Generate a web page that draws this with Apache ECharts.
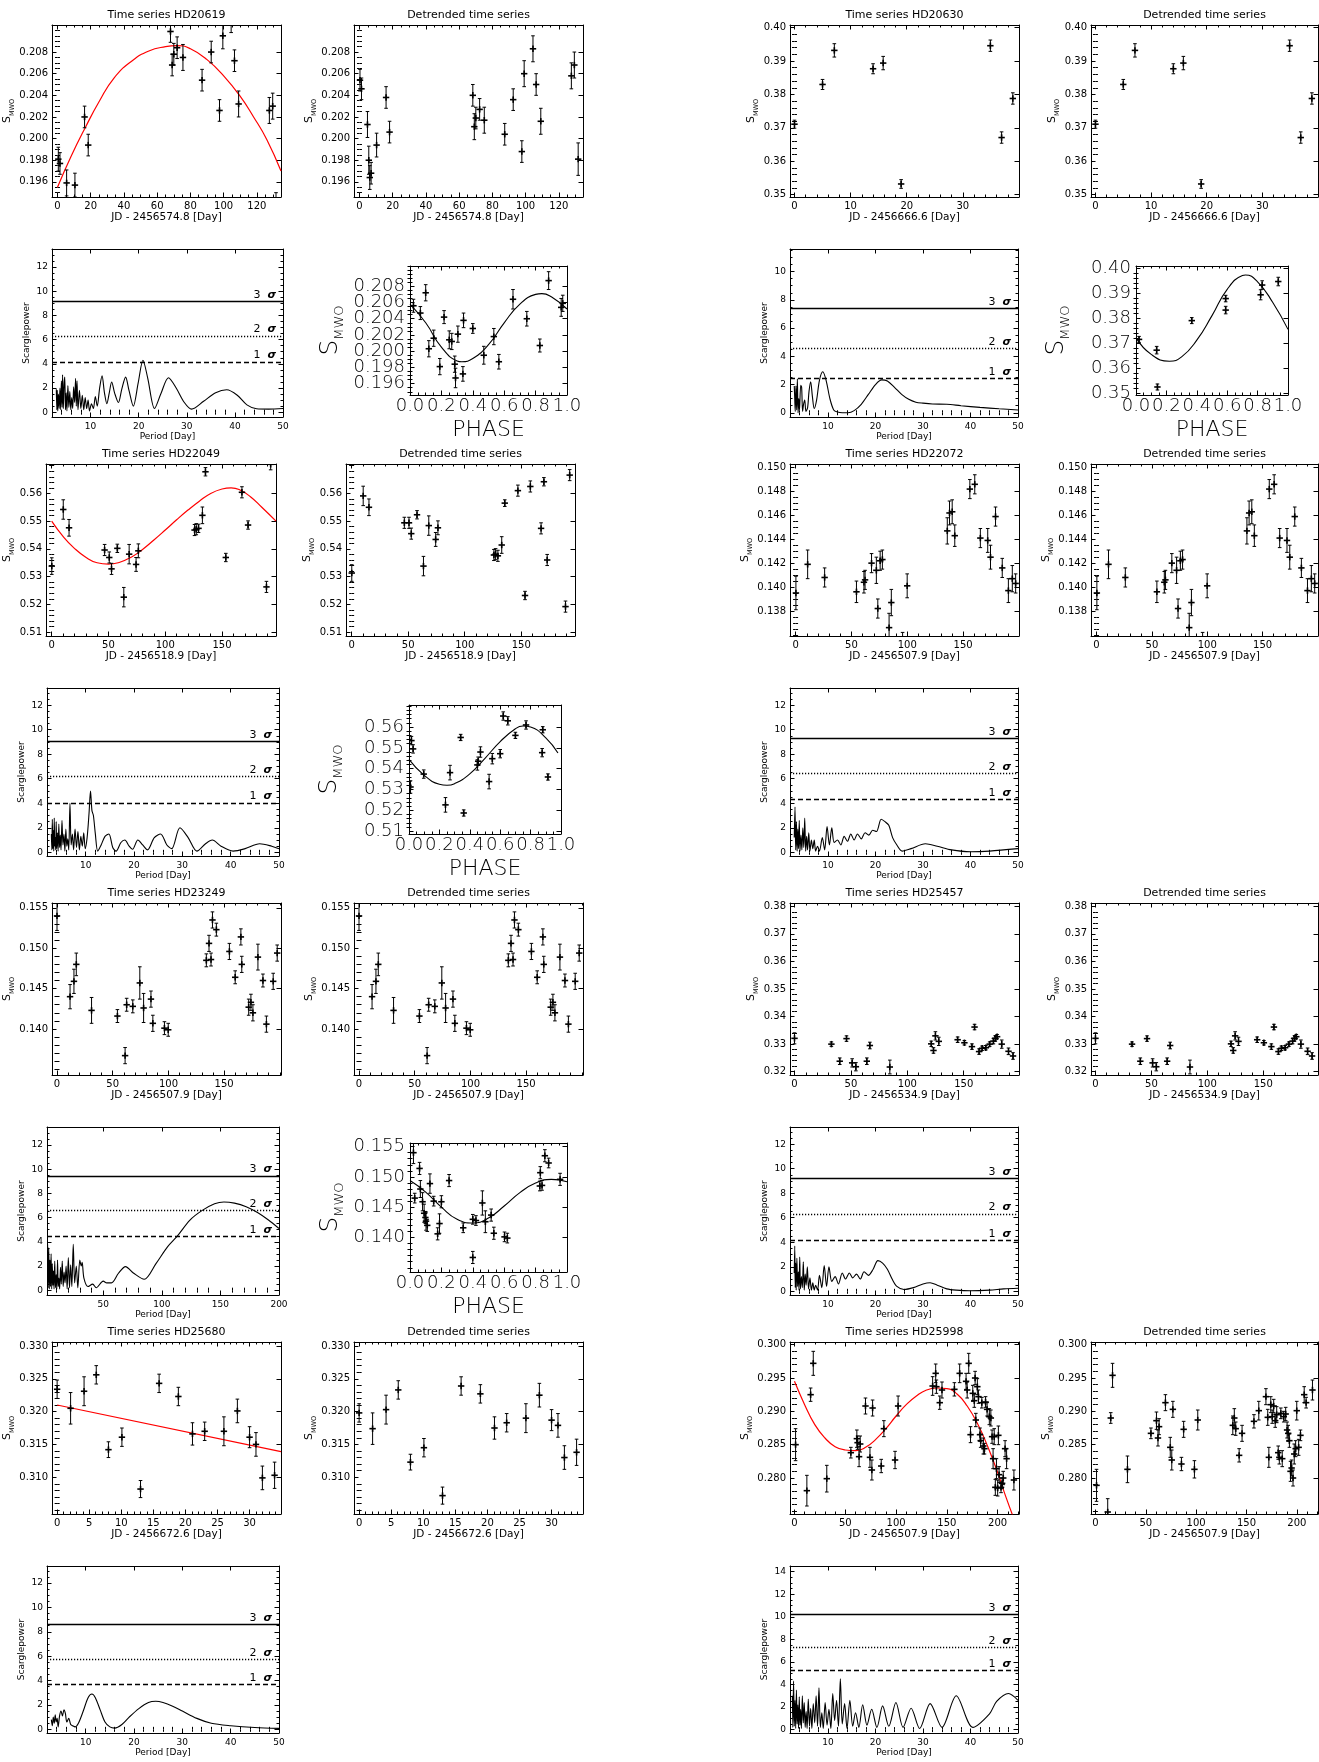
<!DOCTYPE html>
<html><head><meta charset="utf-8">
<script src="https://cdn.jsdelivr.net/npm/echarts/dist/echarts.min.js"></script>
<style>html,body{margin:0;padding:0;background:#fff}#c{width:1319px;height:1762px}</style>
</head><body><div id="c"></div><script>
// ===================== DATA =====================
// ---- HD20619 ----
const ts20619 = [[0.5,0.1981,0.0011],[1.5,0.1977,0.001],[5.5,0.1959,0.0012],[6.3,0.1920,0.0012],[7.0,0.1925,0.001],[10.5,0.1957,0.0011],[16.3,0.2020,0.001],[18.5,0.1994,0.001],[68,0.2099,0.001],[69,0.2068,0.001],[70,0.2078,0.001],[72,0.2084,0.001],[75.5,0.2075,0.0012],[87,0.2054,0.001],[92.5,0.2080,0.001],[97.5,0.2026,0.001],[99.5,0.2095,0.0012],[104.5,0.2108,0.001],[106.5,0.2072,0.001],[109,0.2032,0.0012],[127.5,0.2026,0.0012],[129.5,0.2030,0.0012],[131.5,0.1938,0.0012]];
const fit20619 = [[0,0.1955],[8,0.1983],[17,0.2011],[25,0.2034],[34,0.2056],[45,0.2072],[55,0.2081],[65,0.2085],[72,0.2086],[80,0.2083],[90,0.2073],[100,0.2058],[110,0.2039],[118,0.2020],[126,0.1999],[134.5,0.1970]];
const dt20619 = [[0.3,0.2054,0.001],[1.2,0.2046,0.001],[4.8,0.2013,0.0012],[5.6,0.1980,0.0013],[6.2,0.1964,0.0011],[7.0,0.1968,0.001],[10.3,0.1994,0.0011],[16.0,0.2038,0.001],[18.1,0.2006,0.001],[68.2,0.2040,0.001],[69.1,0.2011,0.0012],[70.0,0.2019,0.001],[72.3,0.2027,0.001],[75.1,0.2017,0.0012],[87.4,0.2004,0.001],[92.5,0.2036,0.001],[97.7,0.1988,0.001],[99.1,0.2060,0.0012],[104.4,0.2083,0.0012],[106.3,0.2050,0.001],[109.1,0.2016,0.0012],[127.5,0.2058,0.0012],[129.3,0.2068,0.0012],[131.6,0.1981,0.0015]];
const pg20619 = [[2.9,1.9],[3.0,0.2],[3.1,1.8],[3.2,0.1],[3.35,1.5],[3.5,0.3],[3.65,2.0],[3.8,0.2],[3.95,2.6],[4.1,0.4],[4.2,3.1],[4.35,0.3],[4.5,2.2],[4.65,2.9],[4.8,0.2],[4.95,1.6],[5.1,0.1],[5.3,2.2],[5.5,0.4],[5.7,1.7],[5.9,0.2],[6.1,1.2],[6.3,0.3],[6.5,2.1],[6.7,0.8],[6.9,2.8],[7.05,0.5],[7.2,2.6],[7.4,0.2],[7.7,1.8],[8.0,0.3],[8.3,1.4],[8.6,0.2],[8.9,1.2],[9.2,0.3],[9.5,1.0],[9.8,0.1],[10.2,0.7],[10.6,0.3],[11.0,1.3],[11.4,0.5],[11.9,2.0],[12.4,3.0],[12.9,1.6],[13.4,0.7],[13.9,1.6],[14.4,2.5],[15.0,1.6],[15.8,0.8],[16.5,1.9],[17.3,2.9],[18.0,1.8],[18.9,0.5],[19.9,2.4],[20.9,4.3],[21.9,2.8],[23.3,0.3],[24.6,1.5],[26.2,2.85],[27.8,2.0],[29.5,0.8],[31.0,0.25],[33.5,0.9],[36.0,1.6],[38.3,1.85],[40.5,1.4],[42.5,0.6],[44.5,0.28],[47,0.25],[50,0.3]];
const sig20619 = [4.15, 6.3, 9.15];
const ph20619 = [[0.022,0.2056,0.0008],[0.066,0.2047,0.0008],[0.10,0.2072,0.001],[0.12,0.2003,0.001],[0.151,0.2016,0.001],[0.19,0.1981,0.001],[0.217,0.2042,0.0008],[0.25,0.2014,0.0011],[0.266,0.2012,0.001],[0.285,0.1984,0.001],[0.29,0.1967,0.0012],[0.305,0.2021,0.001],[0.337,0.1972,0.0009],[0.341,0.2038,0.0009],[0.40,0.2028,0.0006],[0.47,0.1995,0.0011],[0.534,0.2018,0.001],[0.566,0.1987,0.0009],[0.656,0.2064,0.0012],[0.744,0.2040,0.0009],[0.827,0.2007,0.0008],[0.883,0.2087,0.0011],[0.963,0.2054,0.0011],[0.973,0.2059,0.001]];
const phfit20619 = [[0,0.2058],[0.1,0.2035],[0.2,0.2005],[0.3,0.1988],[0.33,0.1987],[0.4,0.1991],[0.5,0.2008],[0.6,0.2035],[0.7,0.2058],[0.8,0.2070],[0.84,0.2071],[0.9,0.2067],[1.0,0.2052]];
const x20619 = ['0','20','40','60','80','100','120'];
const y20619 = ['0.196','0.198','0.200','0.202','0.204','0.206','0.208'];

// ---- HD20630 ----
const ts20630 = [[0.0,0.3711,0.0012],[5.0,0.3830,0.0015],[7.1,0.3932,0.002],[14.0,0.3877,0.0015],[15.8,0.3894,0.002],[19.0,0.3532,0.0013],[34.9,0.3946,0.0017],[36.9,0.3671,0.0017],[38.9,0.3788,0.0017]];
const pg20630 = [[2.9,1.9],[3.0,1.0],[3.1,0.1],[3.25,1.9],[3.4,0.2],[3.55,2.4],[3.7,0.0],[3.85,1.0],[4.0,0.2],[4.25,1.95],[4.45,1.8],[4.65,0.1],[4.85,0.6],[5.1,0.9],[5.35,0.1],[5.7,0.35],[6.0,1.5],[6.35,2.2],[6.7,1.2],[7.1,0.3],[7.6,0.9],[8.2,2.3],[8.9,2.9],[9.6,2.3],[10.4,1.0],[11.2,0.2],[12,0.05],[13,0.0],[14.2,0.0],[15.5,0.15],[17,0.6],[18.5,1.3],[20,2.0],[21.3,2.33],[22.5,2.25],[24,1.8],[25.5,1.3],[27,0.95],[28.5,0.75],[30,0.68],[32,0.62],[35,0.6],[38,0.5],[42,0.38],[46,0.28],[50,0.2]];
const sig20630 = [2.45, 4.55, 7.4];
const ph20630 = [[0.02,0.3715,0.0012],[0.136,0.3672,0.0015],[0.141,0.3525,0.0012],[0.367,0.3790,0.0012],[0.59,0.3832,0.0015],[0.59,0.3878,0.0013],[0.82,0.3893,0.002],[0.83,0.3932,0.0017],[0.936,0.3946,0.0017]];
const phfit20630 = [[0,0.3722],[0.1,0.3655],[0.22,0.3628],[0.3,0.3645],[0.4,0.3712],[0.5,0.3810],[0.6,0.3915],[0.7,0.3970],[0.72,0.3972],[0.8,0.3945],[0.9,0.3862],[1.0,0.3755]];
const x20630 = ['0','10','20','30'];
const y20630 = ['0.35','0.36','0.37','0.38','0.39','0.40'];

// ---- HD22049 ----
const ts22049 = [[0.1,0.5338,0.003],[10.2,0.5542,0.0035],[15.3,0.5476,0.003],[46.6,0.5396,0.002],[50.7,0.5369,0.002],[52.7,0.5328,0.002],[57.8,0.5402,0.0015],[63.5,0.5226,0.0035],[68.2,0.5381,0.0035],[74.3,0.5344,0.0025],[76.3,0.5393,0.0025],[125.8,0.5468,0.002],[127.3,0.5471,0.002],[129.3,0.5474,0.0015],[132.7,0.5521,0.003],[135.4,0.5678,0.0015],[147,0.5743,0.002],[153.3,0.5369,0.0015],[158,0.5763,0.002],[167.5,0.5604,0.002],[170,0.5770,0.0015],[172.9,0.5486,0.0015],[189.1,0.5263,0.002],[192.8,0.5705,0.002]];
const fit22049 = [[0,0.5500],[10,0.5445],[20,0.5402],[30,0.5370],[40,0.5350],[50,0.5345],[60,0.5352],[70,0.5370],[80,0.5398],[90,0.5432],[100,0.5468],[110,0.5505],[120,0.5540],[130,0.5572],[140,0.5600],[150,0.5616],[158,0.5620],[165,0.5614],[175,0.5588],[185,0.5550],[197.5,0.5500]];
const dt22049 = [[0.1,0.5313,0.003],[10.2,0.5591,0.0035],[15.3,0.5550,0.003],[46.6,0.5494,0.002],[50.7,0.5494,0.002],[52.7,0.5455,0.002],[57.8,0.5523,0.0015],[63.5,0.5338,0.0035],[68.2,0.5484,0.0035],[74.3,0.5434,0.0025],[76.3,0.5476,0.0025],[125.8,0.5378,0.002],[127.3,0.5381,0.002],[129.3,0.5375,0.002],[132.7,0.5414,0.003],[135.4,0.5565,0.0012],[147,0.5610,0.002],[153.3,0.5232,0.0015],[158,0.5625,0.002],[167.5,0.5474,0.002],[170,0.5642,0.0015],[172.9,0.5360,0.002],[189.1,0.5192,0.002],[192.8,0.5666,0.002]];
const pg22049 = [[2.9,1.5],[3.0,0.2],[3.1,2.7],[3.2,0.3],[3.3,1.8],[3.4,0.1],[3.5,2.8],[3.6,0.5],[3.7,1.2],[3.8,0.2],[3.9,2.5],[4.0,0.3],[4.15,1.6],[4.3,0.1],[4.45,2.3],[4.6,0.4],[4.75,1.4],[4.9,0.2],[5.1,2.6],[5.3,0.6],[5.5,1.5],[5.7,0.1],[5.9,1.9],[6.1,0.5],[6.3,1.1],[6.5,0.2],[6.75,4.0],[7.0,0.6],[7.25,1.5],[7.5,0.2],[7.8,1.9],[8.1,0.4],[8.4,1.7],[8.7,0.2],[9.0,1.3],[9.3,0.5],[9.6,1.6],[9.9,0.3],[10.3,1.2],[10.7,3.2],[11.0,5.0],[11.3,3.4],[11.6,3.0],[12.0,1.5],[12.5,0.1],[13.2,0.6],[14.0,1.3],[14.8,1.5],[15.6,0.4],[16.3,0.1],[17.3,0.8],[18.1,1.0],[19.0,0.5],[19.7,0.25],[20.8,1.0],[21.8,0.6],[22.8,0.2],[24.2,1.2],[25.5,1.5],[26.8,0.6],[27.8,0.3],[29.5,2.0],[31.2,1.2],[33,0.1],[34.8,0.7],[36.2,1.0],[38,0.5],[40.5,0.1],[43,0.3],[46,0.7],[48.5,0.5],[50,0.3]];
const sig22049 = [4.02, 6.17, 9.03];
const ph22049 = [[0.01,0.5312,0.003],[0.016,0.5535,0.002],[0.027,0.5495,0.002],[0.097,0.5374,0.002],[0.24,0.5226,0.0035],[0.27,0.5381,0.0035],[0.34,0.5550,0.0015],[0.36,0.5187,0.0015],[0.45,0.5418,0.0025],[0.455,0.5436,0.002],[0.47,0.5480,0.0025],[0.527,0.5338,0.0035],[0.548,0.5448,0.0025],[0.60,0.5472,0.002],[0.62,0.5653,0.002],[0.65,0.5630,0.002],[0.70,0.5560,0.0015],[0.77,0.5610,0.002],[0.876,0.5477,0.002],[0.88,0.5587,0.0015],[0.914,0.5360,0.0015]];
const phfit22049 = [[0,0.5445],[0.1,0.5368],[0.2,0.5325],[0.25,0.5320],[0.3,0.5328],[0.4,0.5375],[0.5,0.5450],[0.6,0.5530],[0.7,0.5592],[0.75,0.5605],[0.8,0.5600],[0.9,0.5548],[0.98,0.5475]];
const x22049 = ['0','50','100','150'];
const y22049 = ['0.51','0.52','0.53','0.54','0.55','0.56'];

// ---- HD22072 ----
const ts22072 = [[0.3,0.1395,0.0014],[10.8,0.1419,0.0012],[26.0,0.1408,0.0008],[54.5,0.1396,0.0009],[61.2,0.1404,0.0009],[62.2,0.1406,0.0008],[68.0,0.1420,0.0008],[72.3,0.1414,0.0011],[73.6,0.1382,0.0008],[75.7,0.1422,0.0008],[77.7,0.1423,0.0008],[83.7,0.1366,0.0012],[85.7,0.1387,0.0011],[95.8,0.1354,0.0008],[99.9,0.1401,0.001],[135.8,0.1447,0.0011],[137.8,0.1462,0.001],[140.2,0.1463,0.001],[142.5,0.1443,0.0009],[156.0,0.1482,0.0008],[160.4,0.1486,0.0008],[165.4,0.1441,0.0008],[172.0,0.1439,0.001],[174.5,0.1425,0.001],[179.0,0.1459,0.0008],[185.0,0.1416,0.0008],[190.5,0.1397,0.001],[194.0,0.1407,0.0011],[197.0,0.1403,0.0008]];
const pg22072 = [[2.9,1.2],[3.05,3.7],[3.2,0.2],[3.35,2.5],[3.5,0.1],[3.65,1.9],[3.8,0.3],[3.95,2.6],[4.1,0.1],[4.3,1.4],[4.5,0.2],[4.7,2.0],[4.9,0.4],[5.1,2.8],[5.3,0.1],[5.5,1.3],[5.7,0.2],[5.95,1.6],[6.2,0.1],[6.5,1.0],[6.8,0.3],[7.1,1.0],[7.4,0.1],[7.8,0.5],[8.2,0.1],[8.8,1.2],[9.3,0.2],[9.8,2.1],[10.3,0.6],[10.8,2.0],[11.3,0.8],[12.0,1.0],[12.7,0.6],[13.4,1.3],[14.1,0.9],[14.8,1.5],[15.5,1.0],[16.2,1.5],[17.0,1.1],[17.8,1.6],[18.6,1.4],[19.4,1.8],[20.2,1.7],[21.2,2.7],[22.0,2.5],[22.8,2.2],[23.6,1.2],[24.5,0.6],[25.6,0.1],[27.5,0.3],[30.5,0.7],[33,0.5],[36,0.2],[40,0.05],[44,0.1],[50,0.3]];
const sig22072 = [4.3, 6.42, 9.27];
const x22072 = ['0','50','100','150'];
const y22072 = ['0.138','0.140','0.142','0.144','0.146','0.148','0.150'];

// ---- HD23249 ----
const ts23249 = [[0.0,0.1540,0.0018],[11.7,0.1440,0.0015],[15.2,0.1459,0.0015],[17.3,0.1480,0.0014],[31.0,0.1423,0.0016],[54.2,0.1416,0.0008],[61.1,0.1367,0.001],[62.5,0.1430,0.0008],[68.0,0.1428,0.0008],[74.3,0.1457,0.002],[77.7,0.1426,0.0018],[84.3,0.1437,0.001],[86.0,0.1407,0.001],[96.4,0.1401,0.0008],[99.8,0.1399,0.0008],[134.0,0.1485,0.0008],[136.4,0.1506,0.001],[138.2,0.1486,0.0008],[139.5,0.1535,0.001],[143.0,0.1523,0.0008],[154.7,0.1496,0.001],[159.9,0.1464,0.0008],[165.0,0.1514,0.001],[165.8,0.1480,0.001],[172.0,0.1427,0.001],[174.0,0.1433,0.001],[175.8,0.1420,0.001],[180.3,0.1489,0.0016],[184.8,0.1460,0.0008],[187.9,0.1406,0.001],[194.0,0.1459,0.001],[197.6,0.1494,0.001]];
const pg23249 = [[2.5,3.8],[3,0.2],[3.5,3.5],[4,0.1],[4.5,2.5],[5,0.3],[5.5,3.0],[6,0.1],[6.5,2.2],[7,0.4],[7.5,1.6],[8,0.1],[8.6,2.4],[9.2,0.2],[9.8,1.3],[10.4,0.1],[11,2.5],[11.6,0.3],[12.2,1.0],[12.8,0.1],[13.5,1.9],[14.2,0.5],[15,2.4],[15.8,0.3],[16.6,1.5],[17.4,0.6],[18.3,2.0],[19.2,0.1],[20.2,2.7],[21.2,0.2],[22.2,2.1],[23.2,0.3],[24.4,3.8],[25.6,0.6],[27,2.0],[28.3,0.2],[30,2.5],[31.2,2.0],[32,2.3],[33.5,1.0],[37,0.3],[41,0.5],[44,0.2],[50,0.75],[53,0.6],[57,0.6],[63,1.4],[69,1.95],[76,1.4],[85,0.9],[95,2.2],[105,3.6],[113,4.45],[124,5.8],[134.5,6.6],[145,7.15],[153,7.3],[162,7.2],[172,6.9],[182,6.4],[191,5.8],[200,5.1]];
const sig23249 = [4.45, 6.6, 9.45];
const ph23249 = [[0.022,0.1540,0.0018],[0.03,0.1465,0.0008],[0.061,0.1514,0.001],[0.066,0.1480,0.0014],[0.08,0.1459,0.0015],[0.09,0.1440,0.0015],[0.098,0.1433,0.001],[0.102,0.1427,0.0015],[0.11,0.1420,0.001],[0.127,0.1489,0.0016],[0.151,0.1460,0.0008],[0.176,0.1406,0.001],[0.188,0.1423,0.0016],[0.2,0.1459,0.001],[0.249,0.1494,0.001],[0.339,0.1416,0.0008],[0.40,0.1430,0.0008],[0.40,0.1367,0.001],[0.42,0.1428,0.0008],[0.461,0.1457,0.002],[0.48,0.1426,0.0018],[0.517,0.1437,0.001],[0.534,0.1407,0.001],[0.602,0.1401,0.0008],[0.62,0.1399,0.0008],[0.827,0.1485,0.0008],[0.83,0.1507,0.001],[0.841,0.1486,0.0008],[0.859,0.1535,0.001],[0.883,0.1523,0.0008],[0.956,0.1496,0.001]];
const phfit23249 = [[0,0.1494],[0.1,0.1475],[0.2,0.1450],[0.3,0.1430],[0.4,0.1424],[0.5,0.1432],[0.6,0.1452],[0.7,0.1474],[0.8,0.1490],[0.9,0.1496],[1.0,0.1492]];
const x23249 = ['0','50','100','150'];
const y23249 = ['0.140','0.145','0.150','0.155'];

// ---- HD25457 ----
const ts25457 = [[0.0,0.3321,0.002],[32.7,0.3300,0.0008],[40.1,0.3238,0.0012],[46.1,0.3320,0.001],[51.1,0.3232,0.0015],[54.4,0.3218,0.0015],[64.1,0.3238,0.0012],[66.8,0.3295,0.0012],[84.5,0.3217,0.0025],[121.2,0.3301,0.001],[123.2,0.3277,0.001],[124.9,0.3330,0.0015],[127.9,0.3310,0.0015],[144.6,0.3316,0.001],[150.6,0.3305,0.0008],[157.3,0.3291,0.001],[159.6,0.3362,0.001],[163.6,0.3273,0.001],[166.3,0.3285,0.0008],[169.6,0.3287,0.0008],[173.0,0.3300,0.0008],[176.3,0.3311,0.001],[178.0,0.3321,0.001],[179.6,0.3327,0.0008],[183.7,0.3300,0.0015],[189.7,0.3274,0.0012],[193.7,0.3257,0.0012]];
const pg25457 = [[2.9,1.5],[3.0,3.7],[3.1,0.3],[3.2,2.3],[3.3,0.1],[3.45,2.7],[3.6,0.4],[3.75,1.6],[3.9,0.1],[4.05,2.8],[4.2,0.2],[4.4,1.2],[4.6,0.3],[4.8,2.4],[5.0,0.1],[5.2,1.4],[5.4,0.5],[5.65,2.0],[5.9,0.2],[6.2,1.1],[6.5,0.1],[6.8,0.7],[7.1,0.1],[7.4,0.5],[7.8,0.1],[8.2,1.3],[8.7,0.3],[9.2,2.1],[9.7,0.4],[10.2,2.0],[10.8,0.8],[11.5,1.2],[12.2,0.6],[13,1.5],[13.7,1.0],[14.5,1.5],[15.2,1.1],[16,1.4],[16.8,1.0],[17.6,1.6],[18.5,1.3],[19.5,1.8],[20.5,2.5],[21.5,2.3],[22.5,1.8],[23.5,1.0],[24.5,0.4],[26,0.15],[28,0.3],[30,0.6],[31.5,0.7],[33,0.5],[35,0.2],[37,0.1],[40,0.05],[44,0.1],[47,0.2],[50,0.25]];
const sig25457 = [4.15, 6.3, 9.2];
const x25457 = ['0','50','100','150'];
const y25457 = ['0.32','0.33','0.34','0.35','0.36','0.37','0.38'];

// ---- HD25680 ----
const ts25680 = [[0.0,0.3234,0.0014],[2.1,0.3205,0.0024],[4.2,0.3231,0.0022],[6.1,0.3256,0.0014],[8.0,0.3142,0.0012],[10.1,0.3161,0.0014],[13.0,0.3082,0.0013],[15.9,0.3243,0.0014],[18.9,0.3223,0.0014],[21.1,0.3166,0.0017],[23.0,0.3170,0.0014],[26.0,0.3170,0.0022],[28.1,0.3201,0.0018],[30.0,0.3161,0.0016],[31.0,0.3150,0.0018],[32.0,0.3099,0.0018],[33.9,0.3103,0.002]];
const fit25680 = [[0,0.3210],[34.9,0.3139]];
const dt25680 = [[0.0,0.3198,0.0014],[2.1,0.3174,0.0024],[4.2,0.3203,0.0022],[6.1,0.3233,0.0014],[8.0,0.3123,0.0012],[10.1,0.3145,0.0014],[13.0,0.3072,0.0013],[15.9,0.3239,0.0014],[18.9,0.3227,0.0014],[21.1,0.3175,0.0017],[23.0,0.3183,0.0014],[26.0,0.3190,0.0022],[28.1,0.3225,0.0018],[30.0,0.3187,0.0016],[31.0,0.3179,0.0018],[32.0,0.3130,0.0018],[33.9,0.3138,0.002]];
const pg25680 = [[2.9,0.8],[3.1,0.3],[3.3,1.0],[3.5,0.5],[3.7,1.2],[3.9,0.6],[4.1,0.9],[4.3,0.2],[4.6,1.1],[4.9,1.5],[5.2,1.1],[5.5,1.6],[5.8,1.3],[6.1,0.6],[6.5,0.9],[6.9,0.4],[7.3,0.3],[7.8,0.2],[8.5,0.5],[9.5,1.5],[10.5,2.6],[11.3,2.9],[12,2.6],[13,1.6],[14,0.6],[15,0.2],[16,0.1],[17.5,0.4],[19,1.0],[21,1.7],[23,2.2],[24.5,2.3],[26,2.2],[28,1.9],[30,1.5],[33,0.9],[36,0.5],[40,0.3],[45,0.15],[50,0.08]];
const sig25680 = [3.7, 5.75, 8.6];
const x25680 = ['0','5','10','15','20','25','30'];
const y25680 = ['0.310','0.315','0.320','0.325','0.330'];

// ---- HD25998 ----
const ts25998 = [[1.1,0.2850,0.0024],[12.2,0.2781,0.0023],[15.9,0.2925,0.001],[18.5,0.2972,0.0018],[31.8,0.2799,0.002],[55.5,0.2838,0.0008],[61.4,0.2859,0.0013],[62.1,0.2853,0.001],[63.6,0.2832,0.0015],[64.7,0.2851,0.0012],[69.9,0.2908,0.0012],[74.3,0.2831,0.0015],[76.2,0.2812,0.0015],[76.9,0.2905,0.0012],[85.4,0.2818,0.001],[88.0,0.2874,0.0012],[99.0,0.2827,0.0013],[102.0,0.2908,0.0015],[136.0,0.2938,0.0014],[139.0,0.2957,0.0014],[139.7,0.2937,0.001],[143.0,0.2913,0.001],[145.2,0.2932,0.0012],[157.4,0.2933,0.001],[162.6,0.2957,0.0014],[168.9,0.2945,0.0012],[170.0,0.2932,0.0012],[171.5,0.2972,0.0015],[173.3,0.2865,0.0012],[175.5,0.2927,0.0012],[177.0,0.2916,0.001],[177.8,0.2950,0.001],[178.5,0.2887,0.001],[180.0,0.2937,0.0012],[181.1,0.2922,0.001],[182.6,0.2865,0.001],[183.3,0.2856,0.001],[184.4,0.2913,0.0008],[185.9,0.2848,0.0012],[187.0,0.2844,0.0008],[188.1,0.2914,0.0008],[189.6,0.2903,0.001],[191.8,0.2892,0.0012],[193.3,0.2890,0.0012],[194.5,0.2862,0.001],[195.5,0.2829,0.0015],[196.6,0.2862,0.0012],[197.7,0.2786,0.0012],[198.8,0.2814,0.0015],[200.0,0.2785,0.0012],[200.7,0.2864,0.0014],[201.4,0.2805,0.0012],[203.3,0.2786,0.0008],[204.4,0.2792,0.0008],[205.5,0.2800,0.001],[207.3,0.2844,0.0012],[208.8,0.2829,0.0015],[216.0,0.2797,0.0015]];
const fit25998 = [[0,0.2945],[10,0.2910],[20,0.2880],[30,0.2860],[40,0.2847],[50,0.2842],[60,0.2841],[70,0.2846],[80,0.2858],[90,0.2874],[100,0.2893],[110,0.2910],[120,0.2923],[130,0.2932],[140,0.2935],[150,0.2934],[160,0.2926],[170,0.2908],[180,0.2882],[190,0.2848],[200,0.2808],[208,0.2772],[214.5,0.2745]];
const dt25998 = [[1.1,0.2789,0.0024],[12.2,0.2749,0.002],[15.2,0.2890,0.0008],[17.0,0.2954,0.0018],[31.8,0.2813,0.002],[55.1,0.2867,0.0008],[60.6,0.2886,0.0013],[62.1,0.2860,0.0012],[63.2,0.2877,0.0012],[69.5,0.2913,0.0012],[74.3,0.2846,0.0015],[75.8,0.2827,0.0015],[76.9,0.2903,0.0012],[85.4,0.2821,0.001],[87.6,0.2873,0.0012],[98.3,0.2813,0.0013],[101.6,0.2887,0.0015],[136.4,0.2879,0.0014],[137.9,0.2890,0.0014],[139.3,0.2874,0.001],[142.7,0.2834,0.001],[145.6,0.2867,0.0012],[157.4,0.2885,0.001],[162.2,0.2901,0.0014],[169.3,0.2922,0.0012],[171.1,0.2891,0.0012],[172.2,0.2831,0.0015],[174.1,0.2910,0.0012],[175.5,0.2892,0.001],[177.0,0.2908,0.001],[178.5,0.2886,0.001],[180.0,0.2895,0.0012],[181.5,0.2838,0.001],[182.6,0.2831,0.001],[184.1,0.2897,0.0008],[185.5,0.2829,0.0012],[187.0,0.2892,0.0008],[188.9,0.2896,0.001],[190.3,0.2872,0.0012],[191.4,0.2867,0.0012],[192.6,0.2856,0.001],[193.7,0.2810,0.0015],[194.8,0.2815,0.0012],[196.2,0.2800,0.0012],[197.4,0.2836,0.0015],[198.8,0.2844,0.0012],[199.9,0.2901,0.0014],[201.8,0.2846,0.0012],[203.6,0.2864,0.0008],[207.3,0.2925,0.0012],[209.2,0.2913,0.0008],[215.5,0.2932,0.0015]];
const pg25998 = [[2.5,3.0],[2.6,0.2],[2.75,4.3],[2.9,0.3],[3.05,2.6],[3.2,0.1],[3.35,3.5],[3.5,0.5],[3.65,2.2],[3.8,0.1],[3.95,2.9],[4.1,0.4],[4.25,1.8],[4.4,0.1],[4.6,3.0],[4.8,0.6],[5.0,2.4],[5.2,0.2],[5.4,1.6],[5.6,0.1],[5.85,2.7],[6.1,0.3],[6.35,1.9],[6.6,0.1],[6.9,2.3],[7.2,0.6],[7.5,3.0],[7.8,0.3],[8.1,3.7],[8.4,0.2],[8.7,1.5],[9.0,0.1],[9.4,2.4],[9.8,0.4],[10.2,1.8],[10.6,0.1],[11.0,3.2],[11.4,0.8],[11.8,2.6],[12.2,0.3],[12.6,4.5],[13.0,0.5],[13.5,2.3],[14.0,0.1],[14.6,2.6],[15.2,0.3],[15.8,1.5],[16.5,0.2],[17.3,2.2],[18.2,0.4],[19.2,1.8],[20.3,0.2],[21.5,2.1],[22.8,0.3],[24.3,2.4],[25.8,0.2],[27.5,1.9],[29.3,0.1],[31.5,2.3],[34,0.2],[37,3.0],[40.5,0.2],[44,1.4],[45.5,2.5],[48,3.2],[50,2.6]];
const sig25998 = [5.25, 7.3, 10.2];
const x25998 = ['0','50','100','150','200'];
const y25998 = ['0.280','0.285','0.290','0.295','0.300'];

// periodogram / phase tick labels
const pgX50 = ['10','20','30','40','50'];
const pgX200 = ['50','100','150','200'];
const pgY12 = ['0','2','4','6','8','10','12'];
const pgY10 = ['0','2','4','6','8','10'];
const pgY14 = ['0','2','4','6','8','10','12','14'];
const phX = ['0.0','0.2','0.4','0.6','0.8','1.0'];

// ===================== LAYOUT / HELPERS =====================
const FONT = 'DejaVu Sans';
const option = {animation:false, backgroundColor:'#fff', grid:[], xAxis:[], yAxis:[], series:[]};

function minorList(min, max, step, major) {
  const out = [];
  const k0 = Math.ceil(min / step - 1e-9), k1 = Math.floor(max / step + 1e-9);
  for (let k = k0; k <= k1; k++) {
    const v = +(k * step).toFixed(10);
    if (!major.some(m => Math.abs(m - v) < step * 1e-3)) out.push(v);
  }
  return out;
}
function axes(g, pos, A, o) {
  const major = A.labels.map(Number);
  const minor = minorList(A.min, A.max, A.minor, major);
  const ls = {color:'#000', width:1};
  const fmt = (v) => { const i = major.findIndex(m => Math.abs(m - v) < 1e-9); return i >= 0 ? A.labels[i] : ''; };
  const lstyle = {margin:(o.margin !== undefined ? o.margin : 4), fontSize:o.fs || 10, fontFamily:FONT, fontWeight:o.fw || 'normal', color:'#000',
                  showMinLabel:true, showMaxLabel:true, hideOverlap:false, formatter:fmt};
  const set1 = o.split ? major.filter((_, i) => i % 2 === 0) : major;
  const set2 = o.split ? major.filter((_, i) => i % 2 === 1) : [];
  const base = {type:'value', gridIndex:g, position:pos, min:A.min, max:A.max, splitLine:{show:false}, silent:true};
  const a = Object.assign({}, base, {
    axisLine:{show:true, onZero:false, lineStyle:ls},
    axisTick:{show:true, inside:true, length:o.tl || 4.5, customValues:major, lineStyle:ls},
    axisLabel:Object.assign({show:!!o.labels, customValues:set1}, lstyle),
    name:o.name || '', nameLocation:'middle', nameGap:o.nameGap || 15, nameRotate:o.nameRotate,
    nameTextStyle:Object.assign({color:'#000', fontFamily:FONT, fontSize:10}, o.nameStyle || {})
  });
  const b = Object.assign({}, base, {
    axisLine:{show:false},
    axisLabel:(o.split && o.labels) ? Object.assign({show:true, customValues:set2}, lstyle) : {show:false},
    axisTick:{show:true, inside:true, length:o.mtl || 2.5, customValues:minor, lineStyle:ls}
  });
  return [a, b];
}
function panel(box, X, Y, ox, oy, otop) {
  const g = option.grid.length;
  option.grid.push({left:box[0], top:box[1], width:box[2] - box[0], height:box[3] - box[1], show:false});
  const xi = option.xAxis.length, yi = option.yAxis.length;
  option.xAxis.push(...axes(g, 'bottom', X, Object.assign({labels:true}, ox)), ...axes(g, 'top', X, Object.assign({labels:false}, otop || {})));
  option.yAxis.push(...axes(g, 'left', Y, Object.assign({labels:true}, oy)), ...axes(g, 'right', Y, {labels:false}));
  return {xi, yi};
}
function renderErr(params, api) {
  const x = api.value(0), y = api.value(1), e = api.value(2);
  const c = api.coord([x, y]), hi = api.coord([x, y + e]), lo = api.coord([x, y - e]);
  const s = {stroke:'#000', lineWidth:1}, s2 = {stroke:'#000', lineWidth:1.6};
  const A = 3.2, CAP = 1.8;
  return {type:'group', children:[
    {type:'line', shape:{x1:c[0], y1:hi[1], x2:c[0], y2:lo[1]}, style:s},
    {type:'line', shape:{x1:c[0]-CAP, y1:hi[1], x2:c[0]+CAP, y2:hi[1]}, style:s},
    {type:'line', shape:{x1:c[0]-CAP, y1:lo[1], x2:c[0]+CAP, y2:lo[1]}, style:s},
    {type:'line', shape:{x1:c[0]-A, y1:c[1], x2:c[0]+A, y2:c[1]}, style:s2},
    {type:'line', shape:{x1:c[0], y1:c[1]-A, x2:c[0], y2:c[1]+A}, style:s2}
  ]};
}
function errs(ax, data) {
  option.series.push({type:'custom', xAxisIndex:ax.xi, yAxisIndex:ax.yi, data, renderItem:renderErr, clip:true, silent:true,
    dimensions:['x','y','e'], encode:{x:0, y:1}, z:3});
}
function curve(ax, data, color, width, smooth, extra) {
  option.series.push(Object.assign({type:'line', xAxisIndex:ax.xi, yAxisIndex:ax.yi, data, showSymbol:false, symbol:'none',
    lineStyle:{color, width}, smooth, clip:true, silent:true, z:2}, extra || {}));
}
function sigmaLines(sig) {
  const lab = (n) => ({show:true, position:'insideEndTop', distance:[7,1], formatter:n + '  {b|σ}', color:'#000', fontSize:11, fontFamily:FONT,
    rich:{b:{fontWeight:'bold', fontStyle:'italic', fontSize:11, fontFamily:FONT, color:'#000'}}});
  return {markLine:{symbol:['none','none'], silent:true, animation:false, data:[
    {yAxis:sig[0], lineStyle:{type:[5,3], color:'#000', width:1.3}, label:lab(1)},
    {yAxis:sig[1], lineStyle:{type:[1.2,1.8], color:'#000', width:1.3}, label:lab(2)},
    {yAxis:sig[2], lineStyle:{type:'solid', color:'#000', width:1.4}, label:lab(3)}
  ]}};
}

const SRICH = {s:{fontSize:11, lineHeight:17, fontFamily:FONT, color:'#000'}, m:{fontSize:6.5, lineHeight:7, verticalAlign:'bottom', fontFamily:FONT, color:'#000'}};
const BRICH = {s:{fontSize:25, lineHeight:31, fontFamily:FONT, fontWeight:200, color:'#000'}, m:{fontSize:13, lineHeight:13, verticalAlign:'bottom', fontFamily:FONT, fontWeight:200, color:'#000'}};
const SNAME = '{s|S}{m|MWO}';

function tsPanel(box, X, Y, title, xname) {
  return panel(box, X, Y,
    {name:xname, nameGap:15, fs:10, nameStyle:{fontSize:10.5}},
    {name:SNAME, nameRotate:90, nameGap:24, fs:10, nameStyle:{rich:SRICH}},
    {name:title, nameGap:4, nameStyle:{fontSize:11}});
}
function pgPanel(box, X, Y) {
  return panel(box, X, Y,
    {name:'Period [Day]', nameGap:14, fs:9, margin:5, nameStyle:{fontSize:9}},
    {name:'Scarglepower', nameRotate:90, nameGap:21, fs:9, nameStyle:{fontSize:9}});
}
function phPanel(box, X, Y) {
  return panel(box, X, Y,
    {name:'PHASE', nameGap:24, fs:18, fw:200, margin:2, nameStyle:{fontSize:22, fontWeight:200}},
    {name:SNAME, nameRotate:90, nameGap:64, fs:18, fw:200, margin:5, split:true, nameStyle:{rich:BRICH}});
}

// columns / rows (pixel boxes)
const cA = [52,281], cA3 = [46,276], cAp2 = [52,283], cAp = [47,279], cB = [354,583], cB3 = [346,575], cBph = [410,567], cBph4 = [409,561],
      cC = [790,1019], cCp = [790,1018], cD = [1091,1318], cDph = [1136,1288];
const r1 = [25,197], r2 = [249,417], r2ph = [266,395], r3 = [464,636], r4 = [688,856], r4ph = [705,834], r5 = [903,1075], r6 = [1127,1295], r6ph = [1143,1272], r7 = [1342,1514], r8 = [1566,1733];
const B = (c, r) => [c[0], r[0], c[1], r[1]];

const RED = '#ff0000';
const PGX = {min:2, max:50, labels:pgX50, minor:2};
const PHXA = {min:0, max:1, labels:phX, minor:0.05};

// ---- HD20619 ----
{
  const X = {min:-3.3, max:134.5, labels:x20619, minor:5}, Y = {min:0.1946, max:0.2105, labels:y20619, minor:0.0005};
  let a = tsPanel(B(cA, r1), X, Y, 'Time series HD20619', 'JD - 2456574.8 [Day]');
  curve(a, fit20619, RED, 1.2, 0.5); errs(a, ts20619);
  a = tsPanel(B(cB, r1), X, Y, 'Detrended time series', 'JD - 2456574.8 [Day]'); errs(a, dt20619);
  a = pgPanel(B(cAp2, r2), PGX, {min:-0.4, max:13.5, labels:pgY12, minor:0.5});
  curve(a, pg20619, '#000', 1.1, 0.3, sigmaLines(sig20619));
  a = phPanel(B(cBph, r2ph), PHXA, Y);
  curve(a, phfit20619, '#000', 1.1, 0.5); errs(a, ph20619);
}
// ---- HD20630 ----
{
  const X = {min:-0.8, max:40, labels:x20630, minor:2}, Y = {min:0.3493, max:0.4008, labels:y20630, minor:0.002};
  let a = tsPanel(B(cC, r1), X, Y, 'Time series HD20630', 'JD - 2456666.6 [Day]'); errs(a, ts20630);
  a = tsPanel(B(cD, r1), X, Y, 'Detrended time series', 'JD - 2456666.6 [Day]'); errs(a, ts20630);
  a = pgPanel(B(cCp, r2), PGX, {min:-0.3, max:11.6, labels:pgY10, minor:0.5});
  curve(a, pg20630, '#000', 1.1, 0.3, sigmaLines(sig20630));
  a = phPanel(B(cDph, r2ph), PHXA, Y);
  curve(a, phfit20630, '#000', 1.1, 0.5); errs(a, ph20630);
}
// ---- HD22049 ----
{
  const X = {min:-5, max:197.5, labels:x22049, minor:10}, Y = {min:0.5086, max:0.5706, labels:y22049, minor:0.002};
  let a = tsPanel(B(cA3, r3), X, Y, 'Time series HD22049', 'JD - 2456518.9 [Day]');
  curve(a, fit22049, RED, 1.2, 0.5); errs(a, ts22049);
  a = tsPanel(B(cB3, r3), X, Y, 'Detrended time series', 'JD - 2456518.9 [Day]'); errs(a, dt22049);
  a = pgPanel(B(cAp, r4), PGX, {min:-0.3, max:13.4, labels:pgY12, minor:0.5});
  curve(a, pg22049, '#000', 1.1, 0.3, sigmaLines(sig22049));
  a = phPanel(B(cBph4, r4ph), PHXA, Y);
  curve(a, phfit22049, '#000', 1.1, 0.5); errs(a, ph22049);
}
// ---- HD22072 ----
{
  const X = {min:-5, max:200, labels:x22072, minor:10}, Y = {min:0.1359, max:0.1503, labels:y22072, minor:0.0005};
  let a = tsPanel(B(cC, r3), X, Y, 'Time series HD22072', 'JD - 2456507.9 [Day]'); errs(a, ts22072);
  a = tsPanel(B(cD, r3), X, Y, 'Detrended time series', 'JD - 2456507.9 [Day]'); errs(a, ts22072);
  a = pgPanel(B(cCp, r4), PGX, {min:-0.3, max:13.4, labels:pgY12, minor:0.5});
  curve(a, pg22072, '#000', 1.1, 0.3, sigmaLines(sig22072));
}
// ---- HD23249 ----
{
  const X = {min:-4.5, max:201, labels:x23249, minor:10}, Y = {min:0.1343, max:0.1556, labels:y23249, minor:0.001};
  let a = tsPanel(B(cA, r5), X, Y, 'Time series HD23249', 'JD - 2456507.9 [Day]'); errs(a, ts23249);
  a = tsPanel(B(cB, r5), X, Y, 'Detrended time series', 'JD - 2456507.9 [Day]'); errs(a, ts23249);
  a = pgPanel(B(cAp, r6), {min:2, max:200, labels:pgX200, minor:10}, {min:-0.4, max:13.5, labels:pgY12, minor:0.5});
  curve(a, pg23249, '#000', 1.1, 0.3, sigmaLines(sig23249));
  a = phPanel(B(cBph, r6ph), PHXA, Y);
  curve(a, phfit23249, '#000', 1.1, 0.5); errs(a, ph23249);
}
// ---- HD25457 ----
{
  const X = {min:-4, max:199, labels:x25457, minor:10}, Y = {min:0.3188, max:0.3812, labels:y25457, minor:0.002};
  let a = tsPanel(B(cC, r5), X, Y, 'Time series HD25457', 'JD - 2456534.9 [Day]'); errs(a, ts25457);
  a = tsPanel(B(cD, r5), X, Y, 'Detrended time series', 'JD - 2456534.9 [Day]'); errs(a, ts25457);
  a = pgPanel(B(cCp, r6), PGX, {min:-0.3, max:13.4, labels:pgY12, minor:0.5});
  curve(a, pg25457, '#000', 1.1, 0.3, sigmaLines(sig25457));
}
// ---- HD25680 ----
{
  const X = {min:-0.8, max:34.9, labels:x25680, minor:1}, Y = {min:0.3044, max:0.3306, labels:y25680, minor:0.001};
  let a = tsPanel(B(cA, r7), X, Y, 'Time series HD25680', 'JD - 2456672.6 [Day]');
  curve(a, fit25680, RED, 1.2, false); errs(a, ts25680);
  a = tsPanel(B(cB, r7), X, Y, 'Detrended time series', 'JD - 2456672.6 [Day]'); errs(a, dt25680);
  a = pgPanel(B(cAp, r8), PGX, {min:-0.3, max:13.4, labels:pgY12, minor:0.5});
  curve(a, pg25680, '#000', 1.1, 0.3, sigmaLines(sig25680));
}
// ---- HD25998 ----
{
  const X = {min:-4.4, max:221, labels:x25998, minor:10}, Y = {min:0.2746, max:0.3004, labels:y25998, minor:0.001};
  let a = tsPanel(B(cC, r7), X, Y, 'Time series HD25998', 'JD - 2456507.9 [Day]');
  curve(a, fit25998, RED, 1.2, 0.5); errs(a, ts25998);
  a = tsPanel(B(cD, r7), X, Y, 'Detrended time series', 'JD - 2456507.9 [Day]'); errs(a, dt25998);
  a = pgPanel(B(cCp, r8), PGX, {min:-0.3, max:14.5, labels:pgY14, minor:0.5});
  curve(a, pg25998, '#000', 1.1, 0.3, sigmaLines(sig25998));
}

const chart = echarts.init(document.getElementById('c'), null, {renderer:'canvas'});
chart.setOption(option);
</script></body></html>
